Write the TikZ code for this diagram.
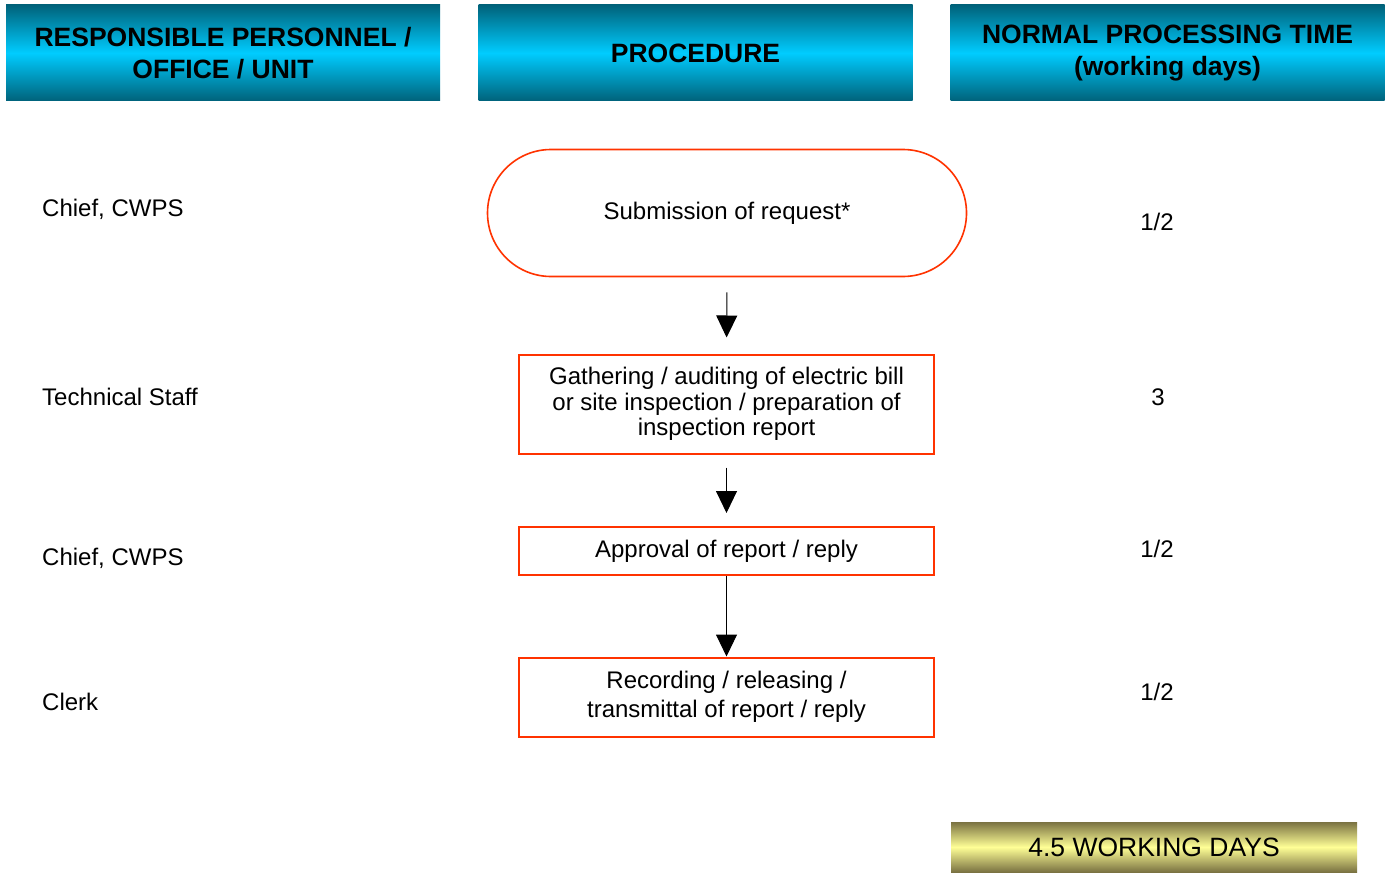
\documentclass[tikz,border=0pt]{standalone}
\usepackage{fontspec}
\setmainfont{Liberation Sans}
\usetikzlibrary{arrows.meta}
\definecolor{hdrdark}{RGB}{0,98,122}
\definecolor{hdrlight}{RGB}{0,204,255}
\definecolor{golddark}{RGB}{122,114,66}
\definecolor{goldlight}{RGB}{255,255,150}
\definecolor{boxred}{RGB}{255,51,0}
\tikzset{
  hdr/.style={inner sep=0pt, minimum width=434pt, minimum height=96pt, align=center,
    top color=hdrdark, bottom color=hdrdark, middle color=hdrlight,
    font=\fontsize{26.5}{32}\selectfont\bfseries},
  proc/.style={draw=boxred, line width=2pt, inner sep=0pt, minimum width=415pt, align=center,
    font=\fontsize{24}{25.5}\selectfont},
  term/.style={draw=boxred, line width=1.6pt, inner sep=0pt, minimum width=479pt, minimum height=127pt,
    rounded corners=63.5pt, align=center, font=\fontsize{24}{28}\selectfont},
  lbl/.style={anchor=west, inner sep=0pt, font=\fontsize{24}{28}\selectfont},
  tim/.style={inner sep=0pt, font=\fontsize{24}{28}\selectfont},
  arr/.style={line width=1pt, -{Triangle[width=21pt,length=22pt]}},
}
\begin{document}
\begin{tikzpicture}[x=1pt,y=-1pt]
\useasboundingbox[fill=white] (0,0) rectangle (1388,872);
% headers
\node[hdr] (h1) at (223,53) {RESPONSIBLE PERSONNEL /\\OFFICE / UNIT};
\node[hdr] (h2) at (695.5,53) {PROCEDURE};
\node[hdr] (h3) at (1167.5,53) {NORMAL PROCESSING TIME\\(working days)};
% procedure
\node[term] (t1) at (727,213) {Submission of request*};
\node[proc, minimum height=99pt] (b2) at (726.5,404) {Gathering / auditing of electric bill\\or site inspection / preparation of\\inspection report};
\node[proc, minimum height=48pt] (b3) at (726.5,551) {Approval of report / reply};
\node[proc, minimum height=79pt, font=\fontsize{24}{29}\selectfont] (b4) at (726.5,697) {Recording / releasing /\\transmittal of report / reply};
\draw[arr, shorten <=15pt, shorten >=16pt] (t1.south) -- (b2.north);
\draw[arr, shorten <=13pt, shorten >=13pt] (b2.south) -- (b3.north);
\draw[arr] (b3.south) -- (b4.north);
% left labels
\node[lbl] (l1) at (42,209) {Chief, CWPS};
\node[lbl] (l2) at (42,397) {Technical Staff};
\node[lbl] (l3) at (42,558) {Chief, CWPS};
\node[lbl] (l4) at (42,702) {Clerk};
% times
\node[tim] (r1) at (1157,222) {1/2};
\node[tim] (r2) at (1158,397) {3};
\node[tim] (r3) at (1157,549) {1/2};
\node[tim] (r4) at (1157,692) {1/2};
% total
\node[inner sep=0pt, minimum width=406pt, minimum height=50pt,
  top color=golddark, bottom color=golddark, middle color=goldlight,
  font=\fontsize{26.5}{30}\selectfont] (tot) at (1154,847) {4.5 WORKING DAYS};
\end{tikzpicture}
\end{document}
